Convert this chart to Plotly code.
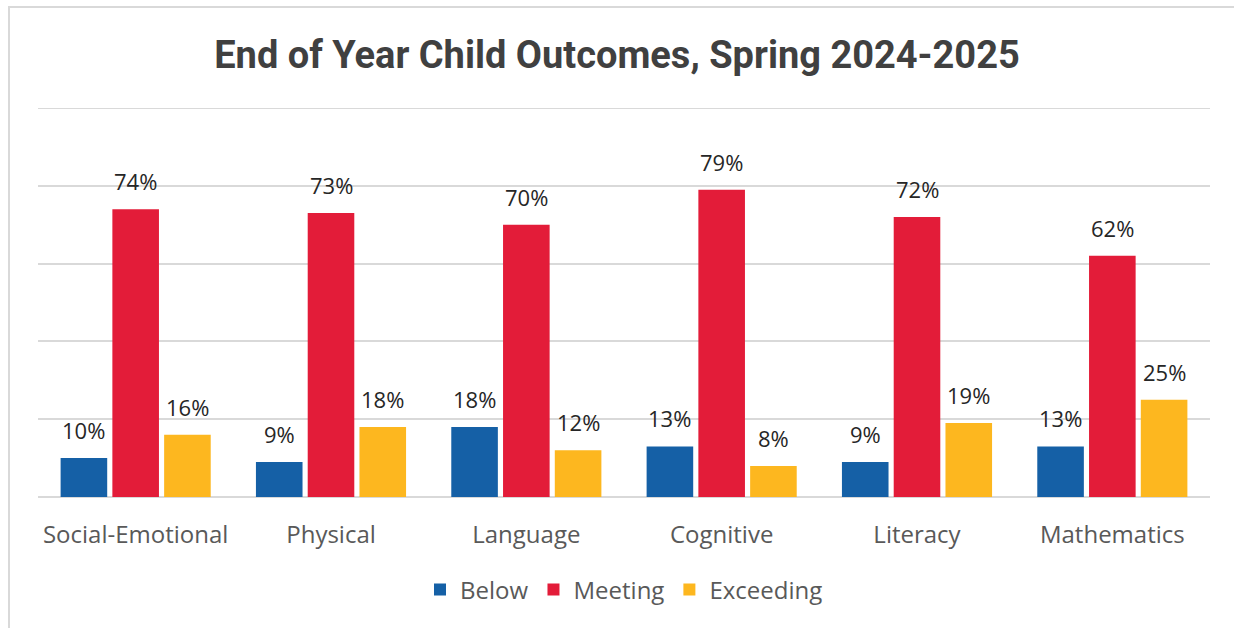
import plotly.graph_objects as go

# Outcome domains and share of children in each band (%)
domains = ["Social-Emotional", "Physical", "Language", "Cognitive", "Literacy", "Mathematics"]
below = [10, 9, 18, 13, 9, 13]
meeting = [74, 73, 70, 79, 72, 62]
exceeding = [16, 18, 12, 8, 19, 25]

series = [
    ("Below", below, "#1560a6"),
    ("Meeting", meeting, "#e31c39"),
    ("Exceeding", exceeding, "#fdb71f"),
]

W, H = 1234, 628
L, R, T, B = 38, 24, 108, 131
BARGAP = 0.205
GROUPGAP = 0.1
YMAX = 100
GRID = "#d9d9d9"

fig = go.Figure()
for name, vals, color in series:
    fig.add_trace(go.Bar(
        name=name, x=domains, y=vals, marker_color=color,
        marker_line_width=0, hoverinfo="skip",
    ))

# value labels above each bar
slot = (1 - BARGAP) / len(series)
annotations = []
for k, (name, vals, color) in enumerate(series):
    off = (k - (len(series) - 1) / 2) * slot
    for i, v in enumerate(vals):
        annotations.append(dict(
            x=i + off, y=v, xref="x", yref="y", text=f"{v}%",
            showarrow=False, yanchor="bottom", yshift=11,
            font=dict(family="Open Sans, Roboto, sans-serif", size=22, color="#262626"),
        ))

plot_w = W - L - R
plot_h = H - T - B

fig.update_layout(
    width=W, height=H,
    margin=dict(l=L, r=R, t=T, b=B),
    paper_bgcolor="white", plot_bgcolor="white",
    barmode="group", bargap=BARGAP, bargroupgap=GROUPGAP,
    title=dict(
        text="<b>End of Year Child Outcomes, Spring 2024-2025</b>",
        x=0.5, xanchor="center", y=1 - 55 / H, yanchor="middle",
        font=dict(family="Roboto, sans-serif", size=38, color="#404040"),
    ),
    xaxis=dict(
        showgrid=False, showline=False, ticks="", ticklabelstandoff=21,
        tickfont=dict(family="Open Sans, Roboto, sans-serif", size=24, color="#595959"),
    ),
    yaxis=dict(
        range=[0, YMAX], dtick=20, showticklabels=False,
        showgrid=True, gridcolor=GRID, gridwidth=2,
        zeroline=True, zerolinecolor=GRID, zerolinewidth=2, showline=False,
    ),
    legend=dict(
        orientation="h", x=0.5, xanchor="center",
        y=-(590 - (H - B)) / plot_h, yanchor="middle",
        font=dict(family="Open Sans, Roboto, sans-serif", size=24, color="#595959"),
        itemwidth=30, tracegroupgap=0,
    ),
    annotations=annotations,
    shapes=[
        # top gridline at the axis maximum
        dict(type="line", xref="paper", yref="y", x0=0, x1=1, y0=YMAX, y1=YMAX,
             line=dict(color=GRID, width=2), layer="below"),
        # chart frame
        dict(type="rect", xref="paper", yref="paper",
             x0=(9 - L) / plot_w, x1=(W + 20 - L) / plot_w,
             y0=-(H + 20 - (H - B)) / plot_h, y1=1 + (T - 7) / plot_h,
             line=dict(color=GRID, width=2), layer="below"),
    ],
)

fig.write_html("out.html")
